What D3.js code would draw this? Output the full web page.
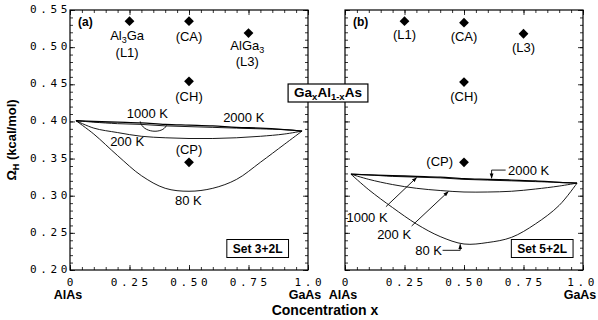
<!DOCTYPE html>
<html>
<head>
<meta charset="utf-8">
<script src="https://cdn.jsdelivr.net/npm/d3@7"></script>
<style>
  body { margin: 0; background: #fff; }
  svg { display: block; font-family: "Liberation Sans", Arial, sans-serif; }
  .tick-label { font-family: "DejaVu Sans Mono", monospace; font-size: 11px; letter-spacing: 3.6px; }
</style>
</head>
<body>
<div id="chart"></div>
<script>
// Concentration grid the curves were read at
const xGrid = [0.025, 0.1, 0.2, 0.3, 0.4, 0.5, 0.6, 0.7, 0.8, 0.9, 0.975];

// Panel (a), Set 3+2L
const a2000 = [0.401, 0.400, 0.399, 0.398, 0.396, 0.395, 0.394, 0.392, 0.391, 0.389, 0.387];
const a1000 = [0.401, 0.399, 0.397, 0.396, 0.394, 0.393, 0.392, 0.391, 0.390, 0.389, 0.387];
const a200  = [0.401, 0.391, 0.385, 0.380, 0.378, 0.377, 0.377, 0.378, 0.380, 0.383, 0.387];
const a80   = [0.401, 0.383, 0.354, 0.327, 0.310, 0.306, 0.310, 0.322, 0.345, 0.369, 0.387];

// Panel (b), Set 5+2L
const b2000 = [0.329, 0.328, 0.327, 0.326, 0.325, 0.323, 0.322, 0.321, 0.320, 0.318, 0.317];
const b1000 = [0.329, 0.328, 0.326, 0.325, 0.324, 0.322, 0.321, 0.320, 0.319, 0.318, 0.317];
const b200  = [0.329, 0.322, 0.315, 0.310, 0.307, 0.305, 0.305, 0.306, 0.309, 0.313, 0.317];
const b80   = [0.329, 0.308, 0.284, 0.262, 0.245, 0.235, 0.237, 0.244, 0.262, 0.287, 0.317];

// Ordered structures: x, Omega_H
const structNames = ["L1", "CA", "L3", "CH", "CP"];
const structX = [0.25, 0.5, 0.75, 0.5, 0.5];
const structA = [0.535, 0.535, 0.519, 0.454, 0.345];
const structB = [0.535, 0.533, 0.518, 0.453, 0.345];

const xTicks = [0, 0.25, 0.5, 0.75, 1];
const xTickLabels = ["0", "0.25", "0.50", "0.75", "1.0"];
const yTicks = [0.20, 0.25, 0.30, 0.35, 0.40, 0.45, 0.50, 0.55];
const yTickLabels = ["0.20", "0.25", "0.30", "0.35", "0.40", "0.45", "0.50", "0.55"];

const W = 598, H = 320;
const svg = d3.select("#chart").append("svg").attr("width", W).attr("height", H);

svg.append("defs").append("marker")
  .attr("id", "arr")
  .attr("viewBox", "0 0 10 10")
  .attr("refX", 9).attr("refY", 5)
  .attr("markerWidth", 6).attr("markerHeight", 6)
  .attr("orient", "auto")
  .append("path").attr("d", "M0,1.5L10,5L0,8.5z").attr("fill", "#000");

const y = d3.scaleLinear().domain([0.2, 0.55]).range([270, 10]);

const panels = [
  { id: "(a)", x0: 70, x1: 308, curves: [a2000, a1000, a200, a80], vals: structA, set: "Set 3+2L", setEnd: 0.893 },
  { id: "(b)", x0: 345, x1: 583, curves: [b2000, b1000, b200, b80], vals: structB, set: "Set 5+2L", setEnd: 0.933 }
];

function tickRow(g, axis, pos, vals, size) {
  g.append("g")
    .attr("transform", pos)
    .call(axis.tickValues(vals).tickSize(size).tickFormat(""))
    .call(s => s.select(".domain").remove())
    .call(s => s.selectAll("line").attr("stroke", "#000").attr("stroke-width", 0.8));
}

const line = x => d3.line()
  .x((d, i) => x(xGrid[i]))
  .y(d => y(d))
  .curve(d3.curveCatmullRom);

function drawPanel(p, pi) {
  const x = d3.scaleLinear().domain([0, 1]).range([p.x0, p.x1]);
  const g = svg.append("g");
  const minorX = d3.range(0, 1.0001, 0.05);
  const minorY = d3.range(0.2, 0.5501, 0.01);

  tickRow(g, d3.axisBottom(x), "translate(0,270)", minorX, -3);
  tickRow(g, d3.axisBottom(x), "translate(0,270)", xTicks, -5);
  tickRow(g, d3.axisTop(x), "translate(0,10)", minorX, -3);
  tickRow(g, d3.axisTop(x), "translate(0,10)", xTicks, -5);
  tickRow(g, d3.axisLeft(y), `translate(${p.x0},0)`, minorY, -3);
  tickRow(g, d3.axisLeft(y), `translate(${p.x0},0)`, yTicks, -5);
  tickRow(g, d3.axisRight(y), `translate(${p.x1},0)`, minorY, -3);
  tickRow(g, d3.axisRight(y), `translate(${p.x1},0)`, yTicks, -5);

  g.append("rect")
    .attr("x", p.x0).attr("y", y(0.55))
    .attr("width", p.x1 - p.x0).attr("height", y(0.2) - y(0.55))
    .attr("fill", "none").attr("stroke", "#000").attr("stroke-width", 1.2);

  // x tick labels; the last one of the right panel is kept inside the page
  g.selectAll(".xl").data(xTicks).join("text")
    .attr("class", "tick-label")
    .attr("x", (d, i) => (pi === 1 && i === xTicks.length - 1) ? W : x(d) + 1.8)
    .attr("y", 285.5)
    .attr("text-anchor", (d, i) => (pi === 1 && i === xTicks.length - 1) ? "end" : "middle")
    .text((d, i) => xTickLabels[i]);

  if (pi === 0) {
    g.selectAll(".yl").data(yTicks).join("text")
      .attr("class", "tick-label")
      .attr("x", p.x0 + 1).attr("y", d => y(d) + 3)
      .attr("text-anchor", "end")
      .text((d, i) => yTickLabels[i]);
  }

  // curves
  g.selectAll(".curve").data(p.curves).join("path")
    .attr("d", d => line(x)(d))
    .attr("fill", "none").attr("stroke", "#000")
    .attr("stroke-width", (d, i) => i === 0 ? 1.4 : 0.9);

  // ordered structures
  g.selectAll(".pt").data(p.vals).join("path")
    .attr("d", d3.symbol(d3.symbolSquare, 48)())
    .attr("transform", (d, i) => `translate(${x(structX[i])},${y(d)}) rotate(45)`)
    .attr("fill", "#000");

  g.append("text").attr("x", p.x0 + 8).attr("y", 26)
    .attr("font-weight", "bold").attr("font-size", 12).text(p.id);

  // set box
  const setX = x(p.setEnd), setY = 248.5;
  const sb = g.append("g");
  const st = sb.append("text").attr("x", setX).attr("y", setY + 4.5)
    .attr("text-anchor", "end").attr("font-weight", "bold").attr("font-size", 12).text(p.set);
  const bb = st.node().getBBox();
  sb.insert("rect", "text")
    .attr("x", bb.x - 6).attr("y", setY - 9)
    .attr("width", bb.width + 12).attr("height", 18)
    .attr("fill", "#fff").attr("stroke", "#000").attr("stroke-width", 1);

  // axis end labels
  g.append("text").attr("x", x(0) - 2).attr("y", 299).attr("text-anchor", "middle")
    .attr("font-weight", "bold").attr("font-size", 12.5).text("AlAs");
  g.append("text").attr("x", x(1) - 3).attr("y", 299).attr("text-anchor", "middle")
    .attr("font-weight", "bold").attr("font-size", 12.5).text("GaAs");

  return x;
}

const xa = drawPanel(panels[0], 0);
const xb = drawPanel(panels[1], 1);

function label(x, px, py, txt, anchor, size) {
  svg.append("text").attr("x", x(px)).attr("y", y(py))
    .attr("text-anchor", anchor || "middle").attr("font-size", size || 13).text(txt);
}
function subLabel(x, px, py, parts) {
  const t = svg.append("text").attr("x", x(px)).attr("y", y(py))
    .attr("text-anchor", "middle").attr("font-size", 13);
  parts.forEach(([s, sub]) => {
    const ts = t.append("tspan").text(s);
    if (sub) ts.attr("font-size", 9).attr("dy", 2.5);
    else if (t.selectAll("tspan").size() > 1) ts.attr("dy", -2.5);
  });
}

// panel (a) structure labels
subLabel(xa, 0.24, 0.509, [["Al"], ["3", true], ["Ga"]]);
label(xa, 0.24, 0.487, "(L1)");
label(xa, 0.5, 0.508, "(CA)");
subLabel(xa, 0.745, 0.496, [["AlGa"], ["3", true]]);
label(xa, 0.745, 0.474, "(L3)");
label(xa, 0.5, 0.427, "(CH)");
label(xa, 0.5, 0.356, "(CP)");
label(xa, 0.325, 0.4045, "1000 K");
label(xa, 0.73, 0.3995, "2000 K");
label(xa, 0.24, 0.367, "200 K");
label(xa, 0.497, 0.2875, "80 K");
// hook from the 1000 K label to its curve
svg.append("path")
  .attr("d", `M${xa(0.295)},${y(0.4)} C${xa(0.305)},${y(0.384)} ${xa(0.39)},${y(0.383)} ${xa(0.405)},${y(0.3945)}`)
  .attr("fill", "none").attr("stroke", "#000").attr("stroke-width", 0.9);

// panel (b) structure labels
label(xb, 0.25, 0.5105, "(L1)");
label(xb, 0.5, 0.5085, "(CA)");
label(xb, 0.75, 0.4935, "(L3)");
label(xb, 0.5, 0.427, "(CH)");
label(xb, 0.454, 0.340, "(CP)", "end");
label(xb, 0.685, 0.3275, "2000 K", "start");
label(xb, 0.006, 0.2645, "1000 K", "start");
label(xb, 0.135, 0.2415, "200 K", "start");
label(xb, 0.295, 0.220, "80 K", "start");

const arrow = pts => svg.append("path")
  .attr("d", d3.line()(pts.map(([px, py]) => [xb(px), y(py)])))
  .attr("fill", "none").attr("stroke", "#000").attr("stroke-width", 0.9)
  .attr("marker-end", "url(#arr)");
arrow([[0.675, 0.3345], [0.616, 0.3345], [0.616, 0.3235]]);
arrow([[0.172, 0.2852], [0.301, 0.3245]]);
arrow([[0.280, 0.2592], [0.434, 0.3055]]);
arrow([[0.41, 0.2265], [0.484, 0.2265], [0.484, 0.2345]]);

// title box across the gap
const tb = svg.append("g");
const tt = tb.append("text").attr("x", 328).attr("y", 97)
  .attr("text-anchor", "middle").attr("font-weight", "bold").attr("font-size", 13.5);
tt.append("tspan").text("Ga");
tt.append("tspan").text("x").attr("font-size", 9.5).attr("dy", 3);
tt.append("tspan").text("Al").attr("dy", -3);
tt.append("tspan").text("1-x").attr("font-size", 9.5).attr("dy", 3);
tt.append("tspan").text("As").attr("dy", -3);
const tbb = tt.node().getBBox();
tb.insert("rect", "text")
  .attr("x", tbb.x - 6).attr("y", 84)
  .attr("width", tbb.width + 12).attr("height", 18)
  .attr("fill", "#fff").attr("stroke", "#000").attr("stroke-width", 1.2);

// axis titles
const yt = svg.append("text")
  .attr("transform", "translate(16,140) rotate(-90)")
  .attr("text-anchor", "middle").attr("font-weight", "bold").attr("font-size", 13);
yt.append("tspan").text("\u03A9");
yt.append("tspan").text("H").attr("font-size", 9).attr("dy", 3);
yt.append("tspan").text(" (kcal/mol)").attr("dy", -3);

svg.append("text").attr("x", 325).attr("y", 315)
  .attr("text-anchor", "middle").attr("font-weight", "bold").attr("font-size", 14)
  .text("Concentration x");
</script>
</body>
</html>
